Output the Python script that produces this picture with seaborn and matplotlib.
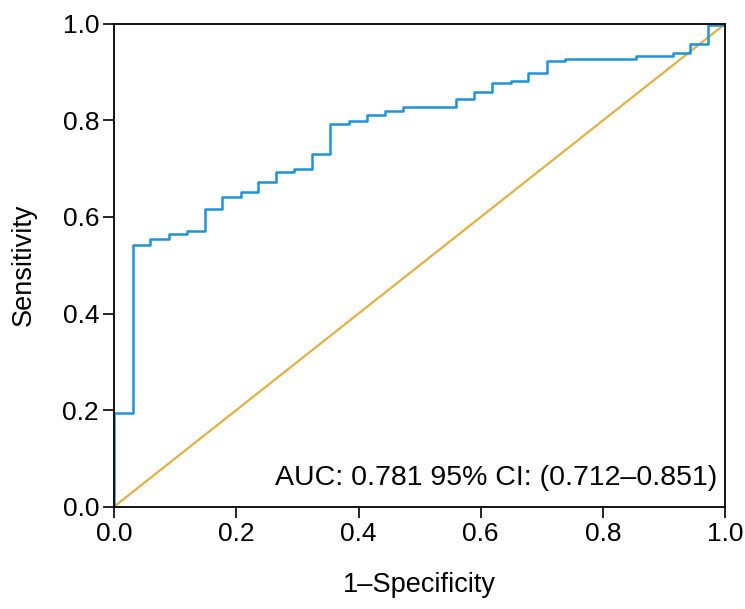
import numpy as np
import pandas as pd
import matplotlib
matplotlib.use("Agg")
import matplotlib.pyplot as plt
import seaborn as sns

# ROC curve corner points (step held after each x)
fpr = [0.0, 0.0, 0.030, 0.059, 0.089, 0.119, 0.149, 0.177, 0.207, 0.236,
       0.265, 0.294, 0.324, 0.354, 0.384, 0.414, 0.443, 0.472, 0.560, 0.589,
       0.619, 0.649, 0.678, 0.708, 0.738, 0.855, 0.914, 0.943, 0.972, 1.0]
tpr = [0.0, 0.194, 0.542, 0.554, 0.564, 0.570, 0.616, 0.642, 0.652, 0.673,
       0.693, 0.699, 0.730, 0.792, 0.798, 0.812, 0.819, 0.828, 0.845, 0.860,
       0.878, 0.882, 0.898, 0.924, 0.928, 0.934, 0.939, 0.959, 0.997, 0.997]
ref_x = [0.0, 1.0]
ref_y = [0.0, 1.0]
auc_label = "AUC: 0.781 95% CI: (0.712\u20130.851)"

sns.set_theme(style="white")
plt.rcParams['font.family'] = ['Liberation Sans', 'DejaVu Sans']

roc = pd.DataFrame({'fpr': fpr, 'tpr': tpr})
diag = pd.DataFrame({'x': ref_x, 'y': ref_y})

fig = plt.figure(figsize=(7.45, 6.09), dpi=100)
ax = fig.add_axes([0.1534, 0.1683, 0.8198, 0.7923])

sns.lineplot(data=diag, x='x', y='y', ax=ax, color='#e2b045', linewidth=1.6,
             sort=False, estimator=None)
sns.lineplot(data=roc, x='fpr', y='tpr', ax=ax, color='#1f93d6', linewidth=1.8,
             sort=False, estimator=None, drawstyle='steps-post')

ticks = np.arange(0, 1.01, 0.2)
ax.set_xlim(0, 1)
ax.set_ylim(0, 1)
ax.set_xticks(ticks)
ax.set_yticks(ticks)
ax.set_xticklabels([f"{v:.1f}" for v in ticks])
ax.set_yticklabels([f"{v:.1f}" for v in ticks])
ax.tick_params(axis='both', direction='out', length=8, width=1.2,
               labelsize=19, color='black', labelcolor='black', pad=3)
ax.tick_params(left=True, bottom=True)

for s in ax.spines.values():
    s.set_visible(True)
    s.set_color('black')
    s.set_linewidth(1.3)

ax.set_xlabel("1\u2013Specificity", fontsize=19.5, color='black')
ax.set_ylabel("Sensitivity", fontsize=19.5, color='black')
ax.xaxis.set_label_coords(0.5, -0.135)
ax.yaxis.set_label_coords(-0.127, 0.5)

ax.text(0.987, 0.045, auc_label, ha='right', va='baseline', fontsize=20.5,
        color='black', transform=ax.transAxes)

plt.savefig("out.png", dpi=100)
